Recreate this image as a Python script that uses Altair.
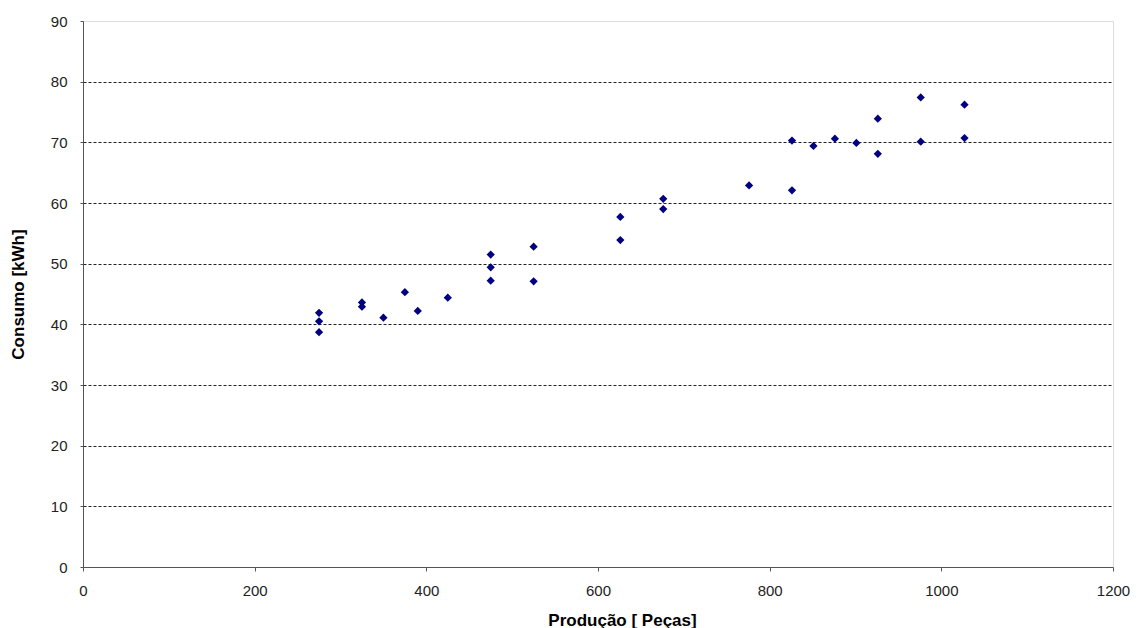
import altair as alt
import pandas as pd

producao = [275, 275, 275, 325, 325, 350, 375, 390, 425, 475, 475, 475, 525, 525,
            626, 626, 676, 676, 776, 826, 826, 851, 876, 901, 926, 926, 976, 976,
            1027, 1027]
consumo = [41.9, 40.5, 38.7, 43.6, 42.9, 41.1, 45.3, 42.2, 44.4, 51.5, 49.4, 47.2,
           52.8, 47.1, 57.7, 53.9, 60.7, 59.0, 62.9, 62.1, 70.3, 69.4, 70.6, 69.9,
           73.9, 68.1, 77.4, 70.1, 76.2, 70.7]

x_ticks = [0, 200, 400, 600, 800, 1000, 1200]
y_ticks = [0, 10, 20, 30, 40, 50, 60, 70, 80, 90]

df = pd.DataFrame({"Produção": producao, "Consumo": consumo})

FONT = "Liberation Sans"

chart = alt.Chart(df).mark_point(
    shape="diamond", filled=True, size=68, color="#000080", opacity=1
).encode(
    x=alt.X("Produção:Q",
            scale=alt.Scale(domain=[0, 1200], nice=False, zero=False),
            axis=alt.Axis(values=x_ticks, format="d", title="Produção [ Peças]", grid=False,
                          tickSize=4, labelPadding=12, labelFontSize=15,
                          labelColor="#222", labelFont=FONT,
                          domainColor="#555", tickColor="#555",
                          titleFont=FONT, titleFontSize=17, titleFontWeight="bold",
                          titleColor="#000", titleY=53, titleX=539, titleAlign="center",
                          titleBaseline="middle", labelFlush=False)),
    y=alt.Y("Consumo:Q",
            scale=alt.Scale(domain=[0, 90], nice=False, zero=False),
            axis=alt.Axis(values=y_ticks, format="d", title="Consumo  [kWh]",
                          grid=True, gridColor="#222", gridDash=[3, 2], gridWidth=1,
                          gridOpacity=alt.condition("datum.value == 0 || datum.value == 90",
                                                    alt.value(0), alt.value(1)),
                          tickSize=3, labelPadding=13, labelFontSize=15,
                          labelColor="#222", labelFont=FONT,
                          domainColor="#555", tickColor="#555",
                          titleFont=FONT, titleFontSize=17, titleFontWeight="bold",
                          titleColor="#000", titleX=-65, titleBaseline="middle",
                          titleAngle=-90, labelFlush=False)),
).properties(
    width=1030, height=546,
    autosize=alt.AutoSizeParams(type="none"),
    padding={"left": 83, "top": 21, "right": 25, "bottom": 61},
).configure_view(stroke="#999", strokeWidth=1).configure(background="white")

chart.save("out.html", embed_options={"renderer": "svg", "actions": False})
